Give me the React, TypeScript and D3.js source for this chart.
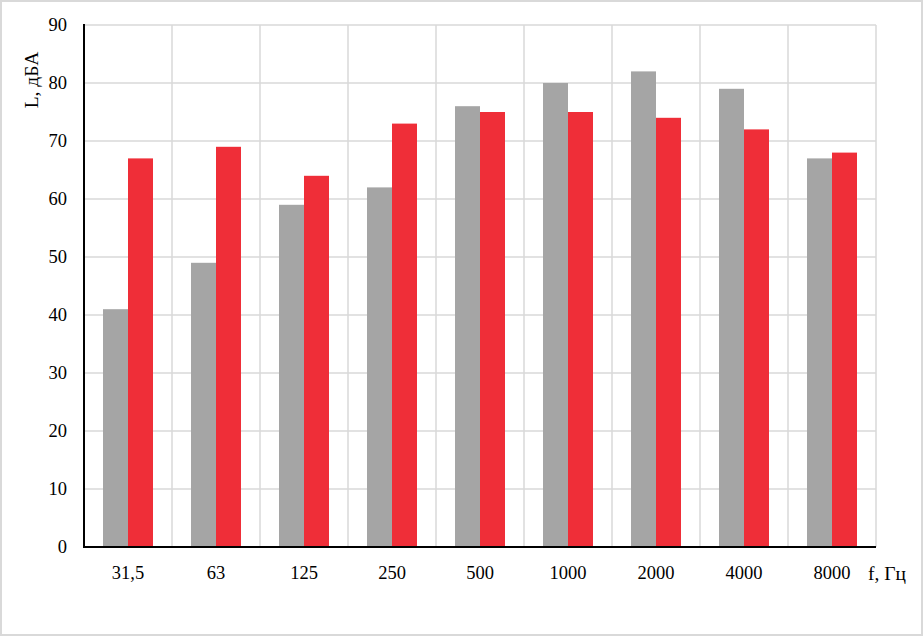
import React from 'react';
import * as d3 from 'd3';

// frequency bands and levels
const categories = ['31,5', '63', '125', '250', '500', '1000', '2000', '4000', '8000'];
const grayValues = [41, 49, 59, 62, 76, 80, 82, 79, 67];
const redValues = [67, 69, 64, 73, 75, 75, 74, 72, 68];
const yTicks = [0, 10, 20, 30, 40, 50, 60, 70, 80, 90];

const W = 924;
const H = 637;
const left = 84;
const right = 876;
const top = 25;
const bottom = 547;
const font = '"Liberation Serif", "Times New Roman", serif';

export default function App() {
  const x = d3.scaleBand<string>().domain(categories).range([left, right]);
  const y = d3.scaleLinear().domain([0, 90]).range([bottom, top]);
  const barW = 25;

  return (
    <svg width={W} height={H} style={{ position: 'absolute', left: 0, top: 0 }}>
      <rect x={0} y={0} width={W} height={H} fill="#fff" />
      <rect x={1} y={1} width={W - 3} height={H - 3} fill="none" stroke="#d9d9d9" strokeWidth={2} />

      {/* horizontal grid */}
      {yTicks.map((t) => (
        <line key={'h' + t} x1={left} x2={right} y1={y(t)} y2={y(t)} stroke="#d9d9d9" strokeWidth={1.5} />
      ))}
      {/* vertical grid */}
      {categories.map((c) => (
        <line key={'v' + c} x1={(x(c) ?? 0) + x.bandwidth()} x2={(x(c) ?? 0) + x.bandwidth()} y1={top} y2={bottom} stroke="#d9d9d9" strokeWidth={1.5} />
      ))}

      {/* bars */}
      {categories.map((c, i) => {
        const cx = (x(c) ?? 0) + x.bandwidth() / 2;
        return (
          <g key={'b' + c}>
            <rect x={cx - barW} y={y(grayValues[i])} width={barW} height={bottom - y(grayValues[i])} fill="#a5a5a5" />
            <rect x={cx} y={y(redValues[i])} width={barW} height={bottom - y(redValues[i])} fill="#ef2e38" />
          </g>
        );
      })}

      {/* axes */}
      <line x1={left} x2={left} y1={top - 1} y2={bottom + 1} stroke="#000" strokeWidth={2} />
      <line x1={left - 1} x2={right} y1={bottom} y2={bottom} stroke="#000" strokeWidth={2} />

      {yTicks.map((t) => (
        <text key={'yl' + t} x={67} y={y(t)} dy="0.35em" textAnchor="end" fontFamily={font} fontSize={18.5}>
          {t}
        </text>
      ))}
      {categories.map((c) => (
        <text key={'xl' + c} x={(x(c) ?? 0) + x.bandwidth() / 2} y={573} dy="0.35em" textAnchor="middle" fontFamily={font} fontSize={18.5}>
          {c}
        </text>
      ))}

      <text x={868} y={573} dy="0.35em" fontFamily={font} fontSize={19.5}>f, Гц</text>
      <text transform="translate(31,80) rotate(-90)" dy="0.35em" textAnchor="middle" fontFamily={font} fontSize={19.5}>
        L, дБА
      </text>
    </svg>
  );
}
